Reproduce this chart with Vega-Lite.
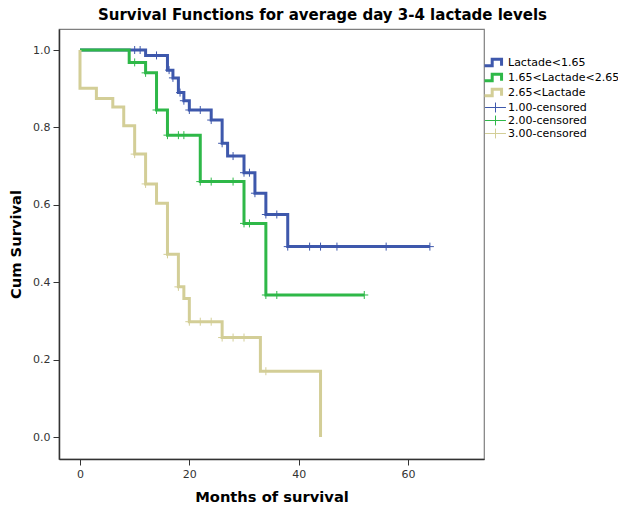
{
  "$schema": "https://vega.github.io/schema/vega-lite/v6.json",
  "width": 425,
  "height": 430,
  "autosize": {"type": "none"},
  "padding": {"left": 59, "top": 29, "right": 134, "bottom": 47},
  "background": "white",
  "config": {
    "view": {"stroke": "#7f7f7f", "strokeWidth": 1.2},
    "font": "DejaVu Sans"
  },
  "title": {
    "text": "Survival Functions for average day 3-4 lactade levels",
    "font": "DejaVu Sans",
    "fontSize": 15,
    "fontWeight": "bold",
    "color": "#000000",
    "anchor": "middle",
    "dx": 51,
    "offset": 6
  },
  "datasets": {
    "curves": [
      {"group": "Lactade<1.65", "t": 0, "s": 1.0},
      {"group": "Lactade<1.65", "t": 12, "s": 0.986},
      {"group": "Lactade<1.65", "t": 16, "s": 0.948},
      {"group": "Lactade<1.65", "t": 17, "s": 0.928},
      {"group": "Lactade<1.65", "t": 18, "s": 0.89},
      {"group": "Lactade<1.65", "t": 19, "s": 0.869},
      {"group": "Lactade<1.65", "t": 20, "s": 0.845},
      {"group": "Lactade<1.65", "t": 24, "s": 0.819},
      {"group": "Lactade<1.65", "t": 26, "s": 0.759},
      {"group": "Lactade<1.65", "t": 27, "s": 0.726},
      {"group": "Lactade<1.65", "t": 30, "s": 0.683},
      {"group": "Lactade<1.65", "t": 32, "s": 0.63},
      {"group": "Lactade<1.65", "t": 34, "s": 0.575},
      {"group": "Lactade<1.65", "t": 38, "s": 0.492},
      {"group": "Lactade<1.65", "t": 64, "s": 0.492},
      {"group": "1.65<Lactade<2.65", "t": 0, "s": 1.0},
      {"group": "1.65<Lactade<2.65", "t": 9, "s": 0.968},
      {"group": "1.65<Lactade<2.65", "t": 12, "s": 0.941},
      {"group": "1.65<Lactade<2.65", "t": 14, "s": 0.845},
      {"group": "1.65<Lactade<2.65", "t": 16, "s": 0.78},
      {"group": "1.65<Lactade<2.65", "t": 22, "s": 0.66},
      {"group": "1.65<Lactade<2.65", "t": 30, "s": 0.552},
      {"group": "1.65<Lactade<2.65", "t": 34, "s": 0.367},
      {"group": "1.65<Lactade<2.65", "t": 52, "s": 0.367},
      {"group": "2.65<Lactade", "t": 0, "s": 1.0},
      {"group": "2.65<Lactade", "t": 0, "s": 0.901},
      {"group": "2.65<Lactade", "t": 3, "s": 0.875},
      {"group": "2.65<Lactade", "t": 6, "s": 0.853},
      {"group": "2.65<Lactade", "t": 8, "s": 0.804},
      {"group": "2.65<Lactade", "t": 10, "s": 0.731},
      {"group": "2.65<Lactade", "t": 12, "s": 0.654},
      {"group": "2.65<Lactade", "t": 14, "s": 0.604},
      {"group": "2.65<Lactade", "t": 16, "s": 0.472},
      {"group": "2.65<Lactade", "t": 18, "s": 0.388},
      {"group": "2.65<Lactade", "t": 19, "s": 0.358},
      {"group": "2.65<Lactade", "t": 20, "s": 0.298},
      {"group": "2.65<Lactade", "t": 26, "s": 0.257},
      {"group": "2.65<Lactade", "t": 33, "s": 0.17},
      {"group": "2.65<Lactade", "t": 44, "s": 0.0}
    ],
    "censor": [
      {"group": "1.00-censored", "t": 10, "s": 1.0},
      {"group": "1.00-censored", "t": 11, "s": 1.0},
      {"group": "1.00-censored", "t": 14, "s": 0.986},
      {"group": "1.00-censored", "t": 16.3, "s": 0.948},
      {"group": "1.00-censored", "t": 17, "s": 0.928},
      {"group": "1.00-censored", "t": 18.3, "s": 0.89},
      {"group": "1.00-censored", "t": 19, "s": 0.869},
      {"group": "1.00-censored", "t": 20, "s": 0.845},
      {"group": "1.00-censored", "t": 22, "s": 0.845},
      {"group": "1.00-censored", "t": 24, "s": 0.819},
      {"group": "1.00-censored", "t": 26, "s": 0.759},
      {"group": "1.00-censored", "t": 28, "s": 0.726},
      {"group": "1.00-censored", "t": 30, "s": 0.683},
      {"group": "1.00-censored", "t": 31, "s": 0.683},
      {"group": "1.00-censored", "t": 32, "s": 0.63},
      {"group": "1.00-censored", "t": 34, "s": 0.575},
      {"group": "1.00-censored", "t": 36, "s": 0.575},
      {"group": "1.00-censored", "t": 38, "s": 0.492},
      {"group": "1.00-censored", "t": 42, "s": 0.492},
      {"group": "1.00-censored", "t": 44, "s": 0.492},
      {"group": "1.00-censored", "t": 47, "s": 0.492},
      {"group": "1.00-censored", "t": 56, "s": 0.492},
      {"group": "1.00-censored", "t": 64, "s": 0.492},
      {"group": "2.00-censored", "t": 10, "s": 0.968},
      {"group": "2.00-censored", "t": 12, "s": 0.941},
      {"group": "2.00-censored", "t": 14, "s": 0.845},
      {"group": "2.00-censored", "t": 16, "s": 0.78},
      {"group": "2.00-censored", "t": 18, "s": 0.78},
      {"group": "2.00-censored", "t": 19, "s": 0.78},
      {"group": "2.00-censored", "t": 22, "s": 0.66},
      {"group": "2.00-censored", "t": 24, "s": 0.66},
      {"group": "2.00-censored", "t": 28, "s": 0.66},
      {"group": "2.00-censored", "t": 30, "s": 0.552},
      {"group": "2.00-censored", "t": 31, "s": 0.552},
      {"group": "2.00-censored", "t": 34, "s": 0.367},
      {"group": "2.00-censored", "t": 36, "s": 0.367},
      {"group": "2.00-censored", "t": 52, "s": 0.367},
      {"group": "3.00-censored", "t": 10, "s": 0.731},
      {"group": "3.00-censored", "t": 12, "s": 0.654},
      {"group": "3.00-censored", "t": 16, "s": 0.472},
      {"group": "3.00-censored", "t": 18, "s": 0.388},
      {"group": "3.00-censored", "t": 20, "s": 0.298},
      {"group": "3.00-censored", "t": 22, "s": 0.298},
      {"group": "3.00-censored", "t": 24, "s": 0.298},
      {"group": "3.00-censored", "t": 26, "s": 0.257},
      {"group": "3.00-censored", "t": 28, "s": 0.257},
      {"group": "3.00-censored", "t": 30, "s": 0.257},
      {"group": "3.00-censored", "t": 34, "s": 0.17}
    ]
  },
  "encoding": {
    "x": {
      "field": "t",
      "type": "quantitative",
      "scale": {"domain": [-3.84, 73.9], "nice": false, "zero": false},
      "axis": {
        "title": "Months of survival",
        "values": [0, 20, 40, 60],
        "format": "d",
        "grid": false,
        "domainColor": "#333333",
        "domainWidth": 1.5,
        "tickColor": "#333333",
        "tickSize": 6,
        "labelFont": "DejaVu Sans",
        "labelFontSize": 11,
        "labelColor": "#333333",
        "labelPadding": 3,
        "titleFont": "DejaVu Sans",
        "titleFontSize": 14.7,
        "titleFontWeight": "bold",
        "titleColor": "#000000",
        "titlePadding": 10
      }
    },
    "y": {
      "field": "s",
      "type": "quantitative",
      "scale": {"domain": [-0.0568, 1.0543], "nice": false, "zero": false},
      "axis": {
        "title": "Cum Survival",
        "values": [0, 0.2, 0.4, 0.6, 0.8, 1.0],
        "format": ".1f",
        "grid": false,
        "domainColor": "#333333",
        "domainWidth": 1.5,
        "tickColor": "#333333",
        "tickSize": 6,
        "labelFont": "DejaVu Sans",
        "labelFontSize": 11,
        "labelColor": "#333333",
        "labelPadding": 3,
        "titleFont": "DejaVu Sans",
        "titleFontSize": 14.7,
        "titleFontWeight": "bold",
        "titleColor": "#000000",
        "titlePadding": 9
      }
    },
    "color": {
      "field": "group",
      "type": "nominal",
      "scale": {
        "domain": ["Lactade<1.65", "1.65<Lactade<2.65", "2.65<Lactade", "1.00-censored", "2.00-censored", "3.00-censored"],
        "range": ["#3E58AC", "#2EB848", "#D3CE97", "#3E58AC", "#2EB848", "#D3CE97"]
      },
      "legend": {
        "title": null,
        "orient": "none",
        "legendX": 431,
        "legendY": 28,
        "padding": 0,
        "labelFont": "DejaVu Sans",
        "labelFontSize": 11,
        "labelColor": "#000000",
        "labelOffset": 7,
        "symbolSize": 484,
        "rowPadding": -13,
        "encode": {
          "symbols": {
            "update": {
              "shape": {"signal": "indexof(['Lactade<1.65','1.65<Lactade<2.65','2.65<Lactade'], datum.value) >= 0 ? 'M-1,0.3H-0.3V-0.3H0.55V0.3' : 'M-0.95,0H0.95M0,-0.45V0.45'"},
              "strokeWidth": {"signal": "indexof(['Lactade<1.65','1.65<Lactade<2.65','2.65<Lactade'], datum.value) >= 0 ? 3 : 1"},
              "stroke": {"scale": "color", "field": "value"},
              "fill": {"value": "transparent"},
              "opacity": {"value": 1}
            }
          }
        }
      }
    }
  },
  "layer": [
    {
      "data": {"name": "curves"},
      "mark": {"type": "line", "interpolate": "step-after", "strokeWidth": 3},
      "encoding": {
        "order": [{"field": "t", "type": "quantitative"}, {"field": "s", "type": "quantitative", "sort": "descending"}]
      }
    },
    {
      "data": {"name": "censor"},
      "mark": {"type": "point", "shape": "M-1,0H1M0,-1V1", "size": 64, "strokeWidth": 1, "filled": false, "opacity": 1}
    }
  ]
}
